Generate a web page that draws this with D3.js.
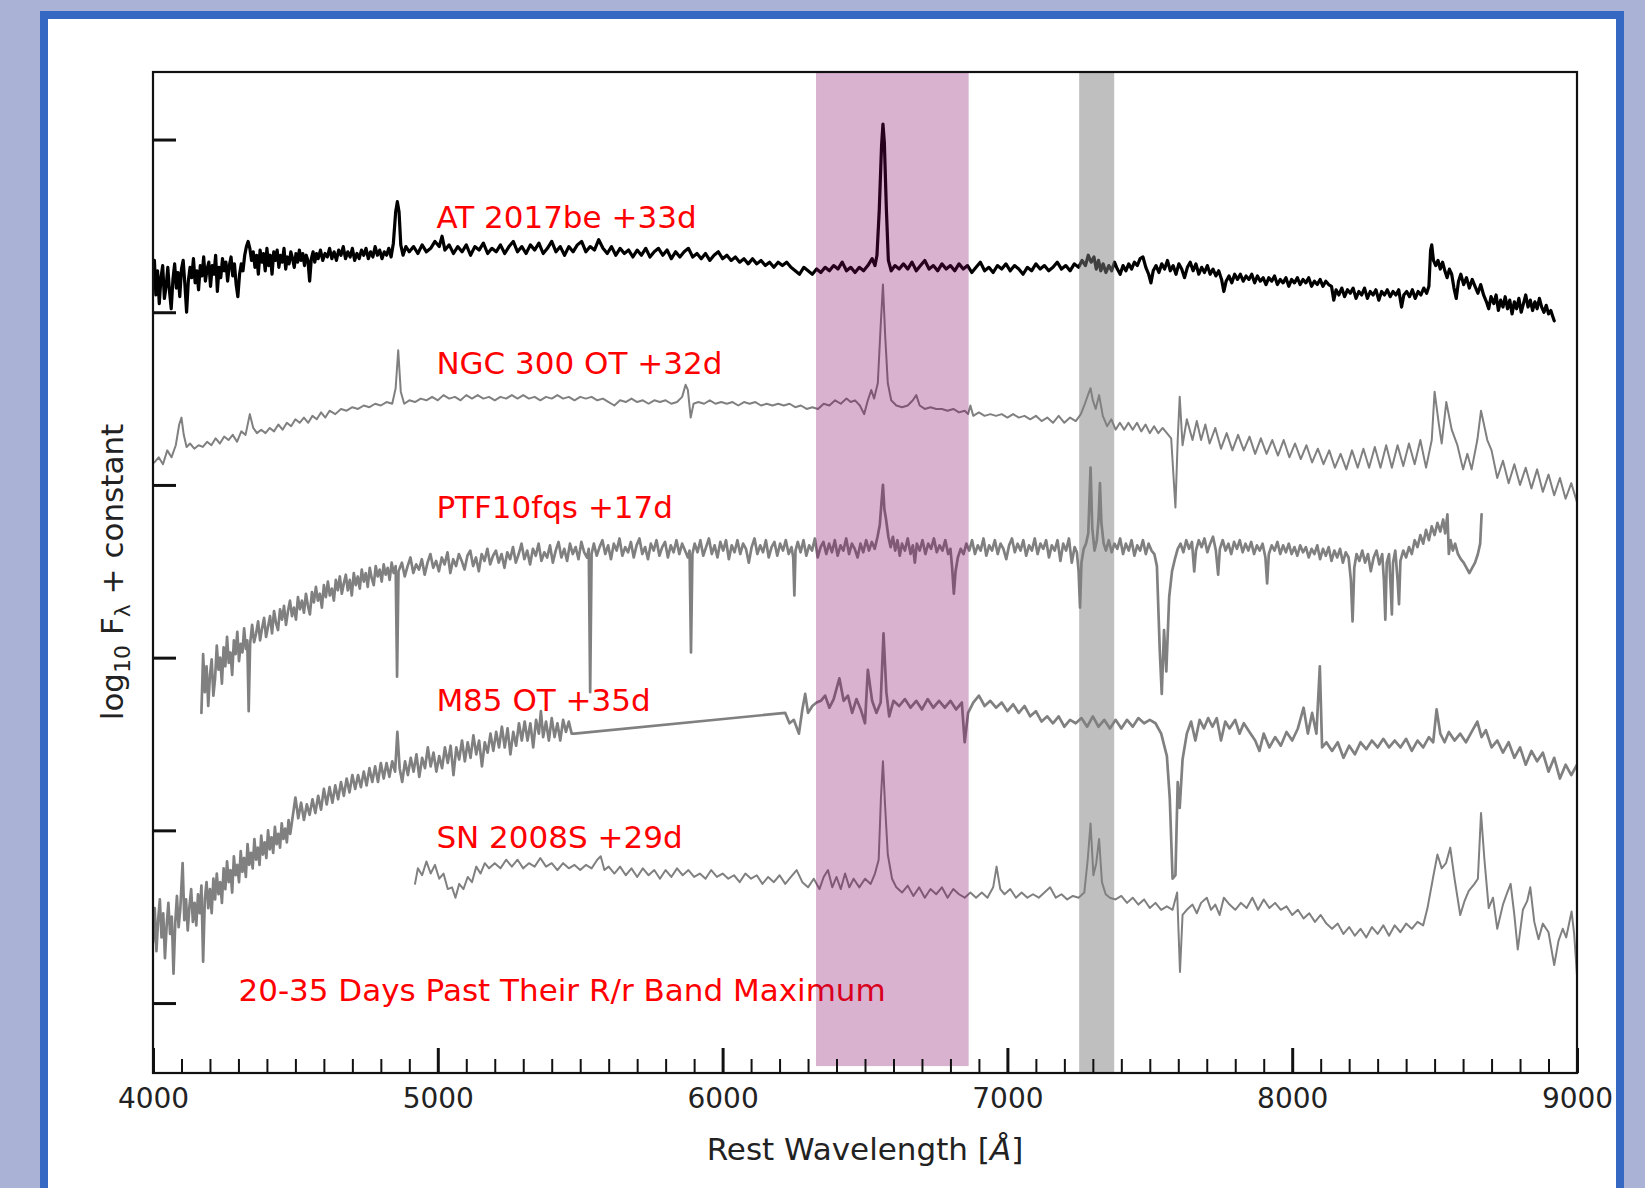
<!DOCTYPE html>
<html>
<head>
<meta charset="utf-8">
<script src="https://cdn.jsdelivr.net/npm/d3@7"></script>
<style>
  html, body { margin: 0; padding: 0; background: #aab3d5; }
  svg { display: block; }
</style>
</head>
<body>
<svg id="chart" width="1645" height="1188"></svg>
<script>
// Spectra: [rest wavelength (Å), log10 F_lambda + constant]
const at2017be = [[4000,4.17],[4005,4.30],[4010,4.10],[4016,4.24],[4022,4.05],[4028,4.20],[4034,4.27],[4040,4.08],[4046,4.15],[4052,4.26],[4058,4.12],[4064,4.02],[4070,4.19],[4076,4.28],[4082,4.14],[4088,4.23],[4094,4.09],[4100,4.25],[4106,4.30],[4112,4.16],[4118,4.00],[4124,4.18],[4130,4.26],[4136,4.20],[4142,4.31],[4148,4.17],[4154,4.24],[4160,4.13],[4166,4.27],[4172,4.21],[4178,4.32],[4184,4.18],[4190,4.25],[4196,4.29],[4202,4.15],[4208,4.27],[4214,4.22],[4220,4.33],[4226,4.12],[4232,4.26],[4238,4.20],[4244,4.31],[4250,4.24],[4256,4.29],[4262,4.18],[4268,4.27],[4274,4.32],[4280,4.21],[4286,4.28],[4292,4.16],[4298,4.09],[4304,4.22],[4310,4.28],[4316,4.24],[4322,4.33],[4328,4.38],[4334,4.41],[4340,4.37],[4346,4.30],[4352,4.35],[4358,4.26],[4364,4.33],[4370,4.22],[4376,4.36],[4382,4.29],[4388,4.34],[4394,4.24],[4400,4.37],[4406,4.27],[4412,4.33],[4418,4.22],[4424,4.35],[4430,4.30],[4436,4.36],[4442,4.26],[4448,4.33],[4454,4.29],[4460,4.37],[4466,4.25],[4472,4.32],[4478,4.28],[4484,4.35],[4490,4.31],[4496,4.26],[4502,4.34],[4508,4.29],[4514,4.36],[4520,4.30],[4526,4.34],[4532,4.27],[4538,4.33],[4544,4.30],[4550,4.18],[4556,4.31],[4562,4.35],[4568,4.29],[4574,4.34],[4580,4.31],[4588,4.36],[4596,4.30],[4604,4.34],[4612,4.32],[4620,4.37],[4628,4.31],[4636,4.35],[4644,4.30],[4652,4.36],[4660,4.33],[4668,4.38],[4676,4.31],[4684,4.35],[4692,4.32],[4700,4.37],[4708,4.30],[4716,4.34],[4724,4.31],[4732,4.36],[4740,4.33],[4748,4.37],[4756,4.31],[4764,4.35],[4772,4.32],[4780,4.38],[4788,4.33],[4796,4.36],[4804,4.31],[4812,4.35],[4820,4.33],[4828,4.37],[4836,4.32],[4844,4.40],[4852,4.58],[4858,4.64],[4864,4.58],[4870,4.39],[4878,4.33],[4888,4.38],[4900,4.35],[4915,4.38],[4930,4.34],[4945,4.39],[4960,4.35],[4975,4.37],[4990,4.41],[5005,4.38],[5015,4.44],[5025,4.36],[5040,4.39],[5055,4.34],[5070,4.38],[5085,4.35],[5100,4.39],[5115,4.33],[5130,4.38],[5145,4.36],[5160,4.40],[5175,4.34],[5190,4.37],[5205,4.35],[5220,4.39],[5235,4.34],[5250,4.38],[5265,4.41],[5280,4.35],[5295,4.38],[5310,4.34],[5325,4.39],[5340,4.36],[5355,4.40],[5370,4.34],[5385,4.37],[5400,4.41],[5415,4.35],[5430,4.38],[5445,4.33],[5460,4.38],[5475,4.35],[5490,4.39],[5505,4.41],[5520,4.35],[5535,4.38],[5550,4.36],[5565,4.42],[5580,4.37],[5595,4.34],[5610,4.38],[5625,4.33],[5640,4.37],[5655,4.34],[5670,4.36],[5685,4.32],[5700,4.36],[5715,4.33],[5730,4.37],[5745,4.32],[5760,4.35],[5775,4.37],[5790,4.33],[5805,4.36],[5820,4.31],[5835,4.35],[5850,4.32],[5865,4.35],[5880,4.37],[5895,4.32],[5910,4.34],[5925,4.31],[5940,4.34],[5955,4.30],[5970,4.33],[5985,4.35],[6000,4.31],[6015,4.33],[6030,4.30],[6045,4.32],[6060,4.29],[6075,4.31],[6090,4.28],[6105,4.31],[6120,4.28],[6135,4.30],[6150,4.27],[6165,4.29],[6180,4.26],[6195,4.29],[6210,4.27],[6225,4.29],[6240,4.26],[6255,4.24],[6270,4.22],[6285,4.26],[6300,4.24],[6315,4.22],[6330,4.25],[6345,4.23],[6360,4.26],[6375,4.24],[6390,4.27],[6405,4.25],[6420,4.29],[6435,4.24],[6450,4.26],[6465,4.23],[6480,4.26],[6495,4.24],[6510,4.27],[6525,4.31],[6535,4.27],[6542,4.33],[6550,4.59],[6558,4.96],[6563,5.09],[6568,4.98],[6575,4.60],[6582,4.30],[6592,4.24],[6605,4.27],[6620,4.25],[6635,4.28],[6650,4.25],[6665,4.29],[6680,4.24],[6695,4.27],[6710,4.30],[6725,4.25],[6740,4.27],[6755,4.24],[6770,4.28],[6785,4.25],[6800,4.27],[6815,4.24],[6830,4.28],[6845,4.25],[6860,4.27],[6875,4.23],[6890,4.26],[6905,4.29],[6920,4.24],[6935,4.26],[6950,4.23],[6965,4.27],[6980,4.25],[6995,4.28],[7010,4.24],[7025,4.27],[7040,4.25],[7055,4.22],[7070,4.26],[7085,4.24],[7100,4.28],[7115,4.25],[7130,4.27],[7145,4.24],[7160,4.26],[7175,4.29],[7190,4.25],[7205,4.27],[7220,4.24],[7235,4.28],[7250,4.26],[7262,4.30],[7274,4.27],[7284,4.33],[7294,4.29],[7304,4.32],[7312,4.25],[7320,4.30],[7328,4.24],[7336,4.28],[7346,4.23],[7356,4.27],[7366,4.24],[7376,4.29],[7386,4.25],[7396,4.22],[7406,4.27],[7416,4.24],[7426,4.28],[7436,4.25],[7446,4.29],[7456,4.27],[7466,4.31],[7476,4.32],[7486,4.26],[7496,4.22],[7504,4.17],[7512,4.24],[7522,4.27],[7532,4.23],[7542,4.28],[7552,4.25],[7562,4.30],[7572,4.24],[7582,4.27],[7592,4.22],[7602,4.28],[7612,4.25],[7622,4.20],[7632,4.26],[7642,4.29],[7652,4.24],[7662,4.28],[7672,4.22],[7682,4.26],[7692,4.23],[7702,4.27],[7712,4.22],[7722,4.25],[7732,4.21],[7742,4.24],[7752,4.19],[7760,4.12],[7768,4.18],[7778,4.21],[7788,4.17],[7798,4.22],[7808,4.19],[7818,4.22],[7828,4.18],[7838,4.21],[7848,4.19],[7858,4.22],[7868,4.17],[7878,4.21],[7888,4.18],[7898,4.20],[7908,4.16],[7918,4.20],[7928,4.18],[7938,4.21],[7948,4.16],[7958,4.19],[7968,4.17],[7978,4.20],[7988,4.15],[7998,4.19],[8008,4.17],[8018,4.20],[8028,4.16],[8038,4.19],[8048,4.17],[8058,4.20],[8068,4.15],[8078,4.18],[8088,4.16],[8098,4.19],[8108,4.15],[8118,4.18],[8128,4.16],[8138,4.15],[8146,4.07],[8154,4.13],[8164,4.10],[8174,4.14],[8184,4.09],[8194,4.13],[8204,4.11],[8214,4.14],[8224,4.08],[8234,4.12],[8244,4.10],[8254,4.14],[8264,4.08],[8274,4.12],[8284,4.10],[8294,4.13],[8304,4.07],[8314,4.12],[8324,4.10],[8334,4.13],[8344,4.09],[8354,4.12],[8364,4.10],[8374,4.13],[8384,4.03],[8392,4.10],[8402,4.12],[8412,4.09],[8422,4.13],[8432,4.08],[8442,4.12],[8452,4.10],[8462,4.14],[8472,4.11],[8480,4.15],[8486,4.36],[8490,4.39],[8496,4.30],[8504,4.27],[8512,4.30],[8520,4.25],[8528,4.29],[8536,4.24],[8544,4.20],[8552,4.25],[8560,4.22],[8568,4.14],[8576,4.08],[8584,4.18],[8592,4.22],[8602,4.16],[8612,4.20],[8622,4.14],[8632,4.19],[8642,4.15],[8652,4.11],[8662,4.16],[8672,4.10],[8682,4.06],[8690,4.02],[8698,4.09],[8708,4.05],[8716,4.10],[8724,4.01],[8732,4.07],[8740,4.03],[8748,4.09],[8756,4.02],[8764,4.07],[8772,3.99],[8780,4.06],[8788,4.02],[8796,4.08],[8804,4.00],[8812,4.05],[8820,4.10],[8828,4.03],[8836,4.07],[8844,4.01],[8852,4.06],[8860,4.02],[8868,4.08],[8876,4.03],[8884,4.00],[8892,4.04],[8900,3.99],[8908,4.01],[8914,3.98],[8920,3.95]];

const ngc300ot = [[4005,3.13],[4020,3.16],[4035,3.12],[4050,3.20],[4065,3.16],[4080,3.23],[4092,3.35],[4100,3.39],[4108,3.29],[4118,3.22],[4130,3.24],[4145,3.21],[4160,3.23],[4175,3.22],[4190,3.25],[4205,3.23],[4220,3.27],[4235,3.24],[4250,3.28],[4265,3.26],[4280,3.29],[4295,3.25],[4310,3.31],[4325,3.29],[4340,3.41],[4352,3.33],[4365,3.30],[4380,3.32],[4395,3.30],[4410,3.33],[4425,3.31],[4440,3.35],[4455,3.32],[4470,3.36],[4485,3.34],[4500,3.38],[4515,3.36],[4530,3.39],[4545,3.36],[4560,3.40],[4575,3.38],[4590,3.42],[4605,3.39],[4620,3.43],[4640,3.41],[4660,3.44],[4680,3.43],[4700,3.45],[4720,3.44],[4740,3.46],[4760,3.45],[4780,3.47],[4800,3.46],[4820,3.48],[4840,3.47],[4852,3.56],[4861,3.78],[4870,3.54],[4882,3.47],[4900,3.49],[4920,3.48],[4940,3.50],[4960,3.49],[4980,3.51],[5000,3.49],[5020,3.52],[5040,3.50],[5060,3.51],[5080,3.49],[5100,3.52],[5120,3.50],[5140,3.52],[5160,3.50],[5180,3.51],[5200,3.49],[5220,3.51],[5240,3.50],[5260,3.52],[5280,3.50],[5300,3.52],[5320,3.50],[5340,3.51],[5360,3.49],[5380,3.51],[5400,3.50],[5420,3.52],[5440,3.50],[5460,3.51],[5480,3.49],[5500,3.51],[5520,3.50],[5540,3.51],[5560,3.49],[5580,3.50],[5600,3.48],[5620,3.46],[5640,3.49],[5660,3.48],[5680,3.50],[5700,3.48],[5720,3.49],[5740,3.47],[5760,3.49],[5780,3.48],[5800,3.49],[5820,3.47],[5840,3.48],[5858,3.51],[5870,3.58],[5878,3.55],[5888,3.39],[5898,3.47],[5915,3.48],[5935,3.47],[5955,3.49],[5975,3.47],[5995,3.48],[6015,3.47],[6035,3.48],[6055,3.46],[6075,3.48],[6095,3.47],[6115,3.48],[6135,3.46],[6155,3.47],[6175,3.46],[6195,3.47],[6215,3.46],[6235,3.47],[6255,3.45],[6275,3.46],[6295,3.44],[6315,3.45],[6335,3.44],[6355,3.47],[6375,3.46],[6395,3.49],[6415,3.47],[6435,3.50],[6450,3.48],[6465,3.49],[6482,3.46],[6497,3.41],[6510,3.49],[6522,3.55],[6532,3.50],[6545,3.59],[6555,3.92],[6563,4.16],[6571,3.86],[6580,3.59],[6592,3.49],[6610,3.46],[6630,3.45],[6650,3.46],[6668,3.49],[6680,3.52],[6692,3.46],[6710,3.44],[6730,3.45],[6750,3.44],[6770,3.44],[6790,3.43],[6810,3.44],[6830,3.42],[6850,3.43],[6862,3.41],[6870,3.46],[6880,3.40],[6900,3.42],[6920,3.40],[6940,3.41],[6960,3.40],[6980,3.41],[7000,3.39],[7020,3.41],[7040,3.39],[7060,3.40],[7080,3.38],[7100,3.40],[7120,3.37],[7140,3.39],[7160,3.36],[7180,3.40],[7200,3.36],[7220,3.39],[7240,3.37],[7258,3.41],[7272,3.47],[7285,3.53],[7292,3.56],[7300,3.49],[7310,3.44],[7322,3.52],[7335,3.40],[7350,3.34],[7365,3.38],[7380,3.32],[7395,3.36],[7410,3.32],[7425,3.36],[7440,3.32],[7455,3.36],[7470,3.31],[7485,3.35],[7500,3.30],[7515,3.34],[7530,3.30],[7545,3.33],[7560,3.30],[7575,3.27],[7590,2.87],[7598,3.26],[7605,3.51],[7615,3.23],[7630,3.38],[7650,3.26],[7665,3.37],[7680,3.26],[7695,3.35],[7710,3.24],[7730,3.33],[7750,3.21],[7770,3.30],[7790,3.20],[7810,3.29],[7830,3.20],[7850,3.28],[7870,3.18],[7890,3.27],[7910,3.18],[7930,3.26],[7950,3.17],[7970,3.26],[7990,3.16],[8010,3.24],[8030,3.15],[8050,3.23],[8070,3.13],[8090,3.21],[8110,3.12],[8130,3.20],[8150,3.10],[8170,3.18],[8190,3.09],[8210,3.20],[8230,3.10],[8250,3.21],[8270,3.10],[8290,3.22],[8310,3.10],[8330,3.23],[8350,3.10],[8370,3.23],[8390,3.11],[8410,3.24],[8430,3.12],[8450,3.26],[8470,3.10],[8490,3.26],[8500,3.54],[8515,3.35],[8525,3.24],[8541,3.48],[8560,3.32],[8580,3.23],[8600,3.09],[8615,3.18],[8630,3.09],[8650,3.26],[8663,3.43],[8685,3.26],[8700,3.20],[8720,3.04],[8740,3.14],[8760,3.01],[8780,3.12],[8800,3.00],[8820,3.10],[8840,2.98],[8860,3.09],[8880,2.96],[8900,3.06],[8920,2.94],[8940,3.04],[8960,2.92],[8980,3.01],[9000,2.90]];

const ptf10fqs = [[4170,1.68],[4176,2.02],[4182,1.80],[4188,1.95],[4194,1.72],[4200,1.90],[4206,1.99],[4212,1.78],[4218,1.88],[4224,2.07],[4230,1.93],[4236,2.00],[4242,1.85],[4248,2.06],[4254,1.95],[4260,2.12],[4266,1.97],[4272,2.03],[4278,1.90],[4284,2.10],[4290,2.02],[4296,2.15],[4302,1.98],[4308,2.08],[4314,2.03],[4320,2.17],[4326,2.05],[4331,2.10],[4336,1.69],[4341,2.08],[4348,2.19],[4355,2.09],[4362,2.14],[4369,2.21],[4376,2.10],[4383,2.17],[4390,2.23],[4397,2.12],[4404,2.18],[4411,2.24],[4418,2.14],[4425,2.27],[4432,2.20],[4439,2.16],[4446,2.28],[4453,2.22],[4460,2.30],[4467,2.19],[4474,2.27],[4481,2.33],[4488,2.24],[4495,2.29],[4502,2.22],[4509,2.35],[4516,2.28],[4523,2.33],[4530,2.26],[4537,2.37],[4544,2.30],[4551,2.25],[4558,2.38],[4565,2.32],[4572,2.41],[4579,2.33],[4586,2.37],[4593,2.29],[4600,2.42],[4607,2.35],[4614,2.44],[4621,2.36],[4628,2.40],[4635,2.33],[4642,2.45],[4649,2.39],[4656,2.47],[4663,2.37],[4670,2.43],[4677,2.48],[4684,2.39],[4691,2.45],[4698,2.36],[4705,2.49],[4712,2.42],[4719,2.47],[4726,2.40],[4733,2.51],[4740,2.44],[4747,2.49],[4754,2.41],[4761,2.52],[4768,2.46],[4775,2.42],[4782,2.53],[4789,2.47],[4796,2.51],[4803,2.44],[4810,2.54],[4817,2.48],[4824,2.52],[4831,2.45],[4838,2.55],[4845,2.49],[4852,2.53],[4857,1.89],[4862,2.50],[4874,2.55],[4884,2.47],[4894,2.53],[4904,2.58],[4914,2.49],[4924,2.54],[4934,2.51],[4944,2.57],[4954,2.48],[4964,2.55],[4974,2.60],[4984,2.52],[4994,2.56],[5004,2.50],[5014,2.58],[5024,2.54],[5034,2.61],[5044,2.49],[5054,2.57],[5064,2.53],[5074,2.60],[5084,2.56],[5094,2.51],[5104,2.59],[5114,2.62],[5124,2.53],[5134,2.58],[5144,2.50],[5154,2.60],[5164,2.56],[5174,2.63],[5184,2.54],[5194,2.59],[5204,2.62],[5214,2.55],[5224,2.60],[5234,2.52],[5244,2.61],[5254,2.57],[5264,2.64],[5274,2.55],[5284,2.60],[5294,2.66],[5304,2.57],[5314,2.62],[5324,2.54],[5334,2.63],[5344,2.59],[5354,2.66],[5364,2.56],[5374,2.61],[5384,2.58],[5394,2.65],[5404,2.55],[5414,2.62],[5424,2.67],[5434,2.58],[5444,2.63],[5454,2.56],[5464,2.66],[5474,2.60],[5484,2.64],[5494,2.57],[5504,2.67],[5514,2.61],[5524,2.58],[5530,2.63],[5535,1.80],[5540,2.60],[5548,2.66],[5558,2.59],[5568,2.64],[5578,2.68],[5588,2.60],[5598,2.65],[5608,2.57],[5618,2.66],[5628,2.62],[5638,2.69],[5648,2.59],[5658,2.64],[5668,2.61],[5678,2.67],[5688,2.58],[5698,2.65],[5708,2.69],[5718,2.60],[5728,2.64],[5738,2.57],[5748,2.66],[5758,2.62],[5768,2.68],[5778,2.59],[5788,2.64],[5798,2.67],[5808,2.58],[5818,2.65],[5828,2.61],[5838,2.68],[5848,2.60],[5858,2.66],[5868,2.62],[5878,2.58],[5884,2.62],[5889,2.03],[5894,2.60],[5902,2.66],[5912,2.61],[5922,2.68],[5932,2.59],[5942,2.64],[5952,2.69],[5962,2.60],[5972,2.65],[5982,2.58],[5992,2.67],[6002,2.62],[6012,2.68],[6022,2.57],[6032,2.65],[6042,2.61],[6052,2.68],[6062,2.60],[6072,2.66],[6082,2.63],[6092,2.55],[6102,2.64],[6112,2.69],[6122,2.60],[6132,2.65],[6142,2.61],[6152,2.68],[6162,2.58],[6172,2.64],[6182,2.67],[6192,2.59],[6202,2.66],[6212,2.62],[6222,2.68],[6232,2.60],[6242,2.64],[6248,2.58],[6252,2.36],[6256,2.62],[6264,2.67],[6274,2.61],[6284,2.68],[6294,2.59],[6304,2.65],[6314,2.62],[6324,2.69],[6334,2.58],[6344,2.64],[6354,2.67],[6364,2.60],[6374,2.66],[6384,2.61],[6394,2.68],[6404,2.59],[6414,2.65],[6424,2.62],[6434,2.69],[6444,2.60],[6454,2.66],[6464,2.63],[6474,2.58],[6484,2.66],[6494,2.61],[6504,2.68],[6514,2.62],[6524,2.67],[6534,2.63],[6544,2.70],[6552,2.77],[6558,2.90],[6563,3.00],[6568,2.86],[6574,2.80],[6582,2.70],[6590,2.64],[6598,2.70],[6606,2.62],[6614,2.68],[6622,2.59],[6630,2.66],[6640,2.62],[6650,2.69],[6660,2.60],[6668,2.65],[6675,2.55],[6682,2.66],[6692,2.62],[6702,2.68],[6712,2.60],[6722,2.66],[6732,2.63],[6742,2.69],[6752,2.61],[6762,2.65],[6772,2.62],[6782,2.68],[6792,2.60],[6800,2.63],[6806,2.52],[6812,2.37],[6818,2.50],[6826,2.58],[6836,2.63],[6846,2.60],[6856,2.66],[6866,2.62],[6876,2.68],[6886,2.60],[6896,2.65],[6906,2.62],[6916,2.69],[6926,2.59],[6936,2.65],[6946,2.62],[6956,2.68],[6966,2.60],[6976,2.66],[6986,2.63],[6996,2.57],[7006,2.65],[7016,2.69],[7026,2.61],[7036,2.66],[7046,2.62],[7056,2.68],[7066,2.59],[7076,2.65],[7086,2.62],[7096,2.69],[7106,2.60],[7116,2.66],[7126,2.63],[7136,2.68],[7146,2.58],[7156,2.65],[7166,2.62],[7176,2.68],[7186,2.56],[7196,2.66],[7206,2.62],[7216,2.69],[7226,2.55],[7236,2.64],[7244,2.61],[7250,2.50],[7255,2.29],[7260,2.55],[7268,2.63],[7276,2.66],[7284,2.72],[7292,3.10],[7298,2.75],[7306,2.62],[7314,2.68],[7320,2.80],[7325,3.01],[7330,2.78],[7338,2.66],[7346,2.62],[7356,2.68],[7366,2.61],[7376,2.66],[7386,2.63],[7396,2.69],[7406,2.60],[7416,2.66],[7426,2.62],[7436,2.68],[7446,2.59],[7456,2.65],[7466,2.62],[7476,2.68],[7486,2.60],[7496,2.66],[7506,2.62],[7516,2.60],[7525,2.53],[7535,2.04],[7542,1.79],[7550,2.16],[7558,1.92],[7568,2.35],[7578,2.50],[7588,2.57],[7598,2.63],[7608,2.66],[7618,2.61],[7628,2.68],[7638,2.63],[7648,2.67],[7656,2.50],[7662,2.62],[7672,2.68],[7682,2.64],[7692,2.69],[7702,2.61],[7712,2.66],[7722,2.70],[7732,2.62],[7740,2.48],[7746,2.63],[7756,2.68],[7766,2.62],[7776,2.66],[7786,2.60],[7796,2.67],[7806,2.63],[7816,2.68],[7826,2.61],[7836,2.66],[7846,2.62],[7856,2.67],[7866,2.60],[7876,2.65],[7886,2.62],[7896,2.66],[7906,2.58],[7912,2.43],[7918,2.60],[7928,2.65],[7938,2.62],[7948,2.67],[7958,2.60],[7968,2.65],[7978,2.61],[7988,2.66],[7998,2.60],[8008,2.64],[8018,2.59],[8028,2.65],[8038,2.61],[8048,2.64],[8058,2.58],[8068,2.63],[8078,2.60],[8088,2.65],[8098,2.57],[8108,2.63],[8118,2.59],[8128,2.64],[8138,2.56],[8148,2.62],[8158,2.58],[8168,2.63],[8178,2.55],[8188,2.61],[8198,2.58],[8206,2.45],[8212,2.21],[8218,2.52],[8226,2.60],[8236,2.56],[8246,2.62],[8256,2.55],[8266,2.60],[8276,2.50],[8286,2.58],[8296,2.62],[8306,2.54],[8316,2.60],[8322,2.45],[8327,2.22],[8332,2.55],[8340,2.60],[8346,2.40],[8350,2.25],[8354,2.55],[8362,2.62],[8370,2.45],[8375,2.31],[8380,2.56],[8390,2.62],[8400,2.58],[8410,2.64],[8420,2.60],[8430,2.68],[8440,2.64],[8450,2.71],[8460,2.66],[8470,2.74],[8480,2.68],[8490,2.76],[8500,2.71],[8510,2.78],[8520,2.73],[8530,2.80],[8537,2.72],[8545,2.83],[8550,2.60],[8556,2.68],[8564,2.62],[8572,2.66],[8582,2.60],[8592,2.57],[8602,2.55],[8612,2.52],[8622,2.49],[8632,2.52],[8642,2.55],[8652,2.60],[8660,2.66],[8665,2.83]];

const m85ot = [[4000,0.35],[4006,0.55],[4012,0.30],[4018,0.48],[4024,0.60],[4030,0.38],[4036,0.52],[4042,0.26],[4048,0.45],[4054,0.58],[4060,0.40],[4066,0.50],[4072,0.17],[4078,0.46],[4084,0.62],[4090,0.44],[4096,0.55],[4104,0.81],[4110,0.48],[4116,0.60],[4122,0.42],[4128,0.56],[4134,0.66],[4140,0.47],[4146,0.58],[4152,0.45],[4158,0.63],[4164,0.52],[4170,0.68],[4176,0.24],[4182,0.60],[4188,0.70],[4194,0.55],[4200,0.66],[4206,0.52],[4212,0.72],[4218,0.60],[4224,0.75],[4230,0.63],[4236,0.70],[4242,0.58],[4248,0.78],[4254,0.66],[4260,0.82],[4266,0.70],[4272,0.77],[4278,0.64],[4284,0.85],[4290,0.74],[4296,0.80],[4302,0.70],[4308,0.88],[4314,0.76],[4320,0.84],[4326,0.73],[4332,0.92],[4338,0.80],[4344,0.87],[4350,0.78],[4356,0.95],[4362,0.83],[4368,0.90],[4374,0.80],[4380,0.97],[4386,0.86],[4392,0.93],[4398,0.84],[4404,1.00],[4410,0.89],[4416,0.96],[4422,0.87],[4428,1.02],[4434,0.92],[4440,0.98],[4446,0.90],[4452,1.04],[4458,0.95],[4464,1.01],[4470,0.93],[4476,1.06],[4482,0.98],[4488,1.05],[4494,1.12],[4500,1.19],[4510,1.07],[4520,1.16],[4530,1.06],[4540,1.15],[4550,1.09],[4560,1.18],[4570,1.10],[4580,1.20],[4590,1.12],[4600,1.24],[4610,1.15],[4620,1.25],[4630,1.16],[4640,1.26],[4650,1.18],[4660,1.28],[4670,1.20],[4680,1.30],[4690,1.22],[4700,1.32],[4710,1.24],[4720,1.32],[4730,1.25],[4740,1.34],[4750,1.26],[4760,1.36],[4770,1.28],[4780,1.37],[4790,1.28],[4800,1.39],[4810,1.30],[4820,1.39],[4830,1.31],[4840,1.40],[4850,1.34],[4858,1.57],[4866,1.36],[4875,1.28],[4885,1.40],[4895,1.32],[4905,1.42],[4915,1.34],[4925,1.44],[4935,1.31],[4945,1.42],[4955,1.36],[4965,1.48],[4975,1.37],[4985,1.45],[4995,1.34],[5005,1.43],[5015,1.36],[5025,1.48],[5035,1.39],[5045,1.49],[5055,1.32],[5065,1.48],[5075,1.41],[5085,1.52],[5095,1.40],[5105,1.51],[5115,1.42],[5125,1.55],[5135,1.44],[5145,1.52],[5155,1.37],[5165,1.51],[5175,1.45],[5185,1.56],[5195,1.46],[5205,1.57],[5215,1.48],[5225,1.60],[5235,1.48],[5245,1.59],[5255,1.44],[5265,1.57],[5275,1.49],[5285,1.62],[5295,1.52],[5305,1.63],[5315,1.52],[5325,1.62],[5335,1.48],[5345,1.64],[5355,1.56],[5362,1.69],[5370,1.54],[5380,1.63],[5390,1.52],[5400,1.65],[5410,1.54],[5420,1.62],[5430,1.52],[5440,1.64],[5450,1.57],[5460,1.63],[5470,1.56],[5480,1.56],[6220,1.68],[6235,1.62],[6250,1.64],[6268,1.56],[6280,1.70],[6290,1.79],[6300,1.68],[6315,1.72],[6330,1.74],[6345,1.75],[6360,1.78],[6375,1.71],[6390,1.76],[6410,1.88],[6425,1.75],[6440,1.78],[6455,1.68],[6470,1.76],[6485,1.70],[6500,1.62],[6510,1.93],[6525,1.75],[6540,1.68],[6555,1.74],[6565,2.14],[6575,1.80],[6585,1.66],[6600,1.75],[6620,1.72],[6640,1.76],[6660,1.71],[6680,1.75],[6700,1.70],[6720,1.76],[6740,1.71],[6760,1.75],[6780,1.71],[6800,1.75],[6820,1.70],[6840,1.74],[6850,1.51],[6862,1.68],[6880,1.74],[6900,1.78],[6920,1.72],[6940,1.75],[6960,1.71],[6980,1.74],[7000,1.69],[7020,1.73],[7040,1.68],[7060,1.72],[7080,1.66],[7100,1.69],[7120,1.63],[7140,1.66],[7160,1.62],[7180,1.66],[7200,1.60],[7220,1.64],[7240,1.62],[7260,1.65],[7280,1.60],[7300,1.66],[7320,1.60],[7340,1.64],[7360,1.59],[7380,1.64],[7400,1.59],[7420,1.64],[7440,1.60],[7460,1.65],[7480,1.62],[7500,1.64],[7520,1.62],[7540,1.56],[7560,1.43],[7570,1.19],[7580,0.72],[7590,0.74],[7598,1.28],[7605,1.13],[7615,1.41],[7630,1.56],[7645,1.63],[7660,1.52],[7675,1.64],[7690,1.59],[7705,1.65],[7720,1.60],[7735,1.65],[7750,1.52],[7765,1.63],[7780,1.59],[7800,1.64],[7815,1.56],[7830,1.62],[7850,1.57],[7870,1.52],[7885,1.46],[7900,1.56],[7920,1.48],[7940,1.54],[7960,1.49],[7980,1.57],[8000,1.52],[8020,1.59],[8040,1.71],[8055,1.56],[8070,1.68],[8085,1.56],[8097,1.95],[8105,1.48],[8120,1.51],[8140,1.46],[8160,1.51],[8180,1.42],[8200,1.49],[8220,1.44],[8240,1.51],[8260,1.47],[8280,1.52],[8300,1.48],[8320,1.53],[8340,1.48],[8360,1.52],[8380,1.48],[8400,1.53],[8420,1.46],[8440,1.52],[8460,1.48],[8480,1.54],[8495,1.51],[8507,1.70],[8520,1.56],[8535,1.51],[8550,1.57],[8570,1.52],[8590,1.56],[8610,1.51],[8630,1.57],[8650,1.63],[8665,1.54],[8680,1.58],[8700,1.48],[8720,1.52],[8740,1.45],[8760,1.51],[8780,1.42],[8800,1.48],[8820,1.38],[8840,1.46],[8860,1.40],[8880,1.45],[8900,1.34],[8920,1.42],[8940,1.30],[8960,1.38],[8980,1.32],[9000,1.38]];

const sn2008s = [[4920,0.69],[4930,0.78],[4945,0.74],[4960,0.82],[4975,0.75],[4990,0.80],[5005,0.72],[5020,0.75],[5035,0.66],[5050,0.67],[5062,0.61],[5075,0.69],[5090,0.66],[5105,0.73],[5120,0.70],[5135,0.79],[5150,0.75],[5165,0.81],[5180,0.78],[5200,0.81],[5220,0.78],[5240,0.83],[5260,0.79],[5280,0.83],[5300,0.78],[5320,0.81],[5340,0.79],[5360,0.84],[5380,0.79],[5400,0.81],[5420,0.77],[5440,0.81],[5460,0.78],[5480,0.80],[5500,0.77],[5520,0.80],[5540,0.78],[5560,0.83],[5572,0.85],[5585,0.77],[5600,0.79],[5620,0.75],[5640,0.79],[5660,0.74],[5680,0.78],[5700,0.73],[5720,0.78],[5740,0.74],[5760,0.77],[5780,0.72],[5800,0.77],[5820,0.73],[5840,0.78],[5860,0.74],[5880,0.77],[5900,0.73],[5920,0.75],[5940,0.72],[5960,0.77],[5980,0.73],[6000,0.75],[6020,0.72],[6040,0.74],[6060,0.70],[6080,0.75],[6100,0.72],[6120,0.74],[6140,0.69],[6160,0.73],[6180,0.70],[6200,0.74],[6220,0.69],[6240,0.73],[6260,0.77],[6280,0.70],[6300,0.67],[6320,0.72],[6340,0.66],[6355,0.73],[6370,0.77],[6385,0.67],[6400,0.73],[6415,0.66],[6430,0.75],[6445,0.67],[6460,0.72],[6480,0.67],[6500,0.72],[6520,0.69],[6535,0.75],[6548,0.83],[6556,1.19],[6563,1.40],[6570,1.16],[6580,0.86],[6595,0.72],[6610,0.67],[6630,0.64],[6650,0.68],[6670,0.62],[6690,0.67],[6710,0.61],[6730,0.66],[6750,0.63],[6770,0.67],[6790,0.61],[6810,0.66],[6830,0.63],[6850,0.61],[6870,0.64],[6890,0.61],[6910,0.64],[6930,0.61],[6950,0.67],[6962,0.79],[6975,0.66],[6990,0.63],[7010,0.66],[7030,0.61],[7050,0.64],[7070,0.61],[7090,0.63],[7110,0.61],[7130,0.64],[7150,0.67],[7170,0.61],[7190,0.63],[7210,0.60],[7230,0.62],[7250,0.61],[7270,0.64],[7282,0.83],[7292,1.04],[7302,0.74],[7312,0.81],[7322,0.95],[7332,0.70],[7345,0.63],[7360,0.61],[7380,0.60],[7400,0.62],[7420,0.58],[7440,0.61],[7460,0.57],[7480,0.60],[7500,0.55],[7520,0.58],[7540,0.54],[7560,0.56],[7580,0.54],[7596,0.64],[7606,0.18],[7615,0.51],[7630,0.54],[7650,0.57],[7665,0.52],[7680,0.58],[7700,0.61],[7715,0.54],[7730,0.57],[7745,0.51],[7760,0.61],[7780,0.57],[7800,0.54],[7820,0.58],[7840,0.55],[7860,0.61],[7880,0.54],[7900,0.60],[7920,0.55],[7940,0.58],[7960,0.54],[7980,0.56],[8000,0.51],[8020,0.54],[8040,0.49],[8060,0.52],[8080,0.47],[8100,0.51],[8120,0.46],[8140,0.43],[8160,0.46],[8180,0.40],[8200,0.44],[8220,0.39],[8240,0.43],[8260,0.38],[8280,0.44],[8300,0.40],[8320,0.45],[8340,0.39],[8360,0.45],[8380,0.41],[8400,0.46],[8420,0.43],[8440,0.47],[8460,0.45],[8475,0.55],[8495,0.73],[8510,0.86],[8525,0.78],[8540,0.81],[8555,0.90],[8570,0.72],[8590,0.51],[8605,0.59],[8620,0.65],[8640,0.69],[8652,0.72],[8663,1.10],[8675,0.83],[8690,0.55],[8705,0.61],[8720,0.43],[8740,0.57],[8755,0.64],[8767,0.69],[8780,0.51],[8792,0.31],[8810,0.54],[8825,0.59],[8836,0.67],[8850,0.47],[8865,0.37],[8880,0.46],[8900,0.41],[8920,0.22],[8935,0.36],[8950,0.43],[8962,0.38],[8981,0.53],[8990,0.40],[9000,0.16]];

// Object names and epochs
const objectNames = ["AT 2017be +33d", "NGC 300 OT +32d", "PTF10fqs +17d", "M85 OT +35d", "SN 2008S +29d"];
const objectLabelY = [4.49, 3.64, 2.81, 1.69, 0.90];
const noteText = "20-35 Days Past Their R/r Band Maximum";
const noteY = 0.01;

// Axis ticks
const xMajorTicks = [4000, 5000, 6000, 7000, 8000, 9000];
const xMinorTicks = d3.range(4100, 9000, 100).filter(v => v % 1000 !== 0);
const yTicks = [0, 1, 2, 3, 4, 5];

// Shaded wavelength windows
const halphaBand = [6328, 6864];
const halphaBandFloor = -0.365;
const grayBand = [7252, 7375];

const svg = d3.select("#chart");
const FONT = "DejaVu Sans, Verdana, sans-serif";

// page frame
svg.append("rect").attr("x", 44).attr("y", 15).attr("width", 1576).attr("height", 1240)
  .attr("fill", "#ffffff").attr("stroke", "#3468c2").attr("stroke-width", 8);

const L = 153, R = 1577, T = 72, B = 1073;
const x = d3.scaleLinear().domain([4000, 9000]).range([L, R]);
const y = d3.scaleLinear().domain([-0.405, 5.391]).range([B, T]);

svg.append("defs").append("clipPath").attr("id", "plotClip")
  .append("rect").attr("x", L).attr("y", T).attr("width", R - L).attr("height", B - T);

const plot = svg.append("g").attr("clip-path", "url(#plotClip)");
plot.append("rect").attr("x", L).attr("y", T).attr("width", R - L).attr("height", B - T).attr("fill", "#fff");

const line = d3.line().x(d => x(d[0])).y(d => y(d[1]));

const spectra = [
  { data: sn2008s, color: "#808080", width: 2.0 },
  { data: m85ot, color: "#808080", width: 2.7 },
  { data: ptf10fqs, color: "#808080", width: 2.7 },
  { data: ngc300ot, color: "#808080", width: 2.0 },
  { data: at2017be, color: "#000000", width: 3.2 }
];
spectra.forEach(s => {
  plot.append("path").datum(s.data).attr("d", line)
    .attr("fill", "none").attr("stroke", s.color).attr("stroke-width", s.width)
    .attr("stroke-linejoin", "round").attr("stroke-linecap", "round");
});

// labels
const labelX = 4995;
objectNames.forEach((name, i) => {
  plot.append("text").attr("x", x(labelX)).attr("y", y(objectLabelY[i]))
    .attr("fill", "#ff0000").attr("font-family", FONT).attr("font-size", 31)
    .text(name);
});
plot.append("text").attr("x", x(4300)).attr("y", y(noteY))
  .attr("fill", "#ff0000").attr("font-family", FONT).attr("font-size", 31)
  .text(noteText);

// shaded windows on top
plot.append("rect")
  .attr("x", x(halphaBand[0])).attr("width", x(halphaBand[1]) - x(halphaBand[0]))
  .attr("y", T).attr("height", y(halphaBandFloor) - T)
  .attr("fill", "rgb(128,0,100)").attr("fill-opacity", 0.3);
plot.append("rect")
  .attr("x", x(grayBand[0])).attr("width", x(grayBand[1]) - x(grayBand[0]))
  .attr("y", T).attr("height", B - T)
  .attr("fill", "#808080").attr("fill-opacity", 0.5);

// axes
const xMajor = svg.append("g").attr("transform", `translate(0,${B})`)
  .call(d3.axisBottom(x).tickValues(xMajorTicks).tickSize(-25).tickPadding(15).tickFormat(d3.format("d")));
xMajor.select(".domain").remove();
xMajor.selectAll(".tick line").attr("stroke", "#111").attr("stroke-width", 3);
xMajor.selectAll(".tick text").attr("font-family", FONT).attr("font-size", 28).attr("fill", "#222");

const xMinor = svg.append("g").attr("transform", `translate(0,${B})`)
  .call(d3.axisBottom(x).tickValues(xMinorTicks).tickSize(-14).tickFormat(""));
xMinor.select(".domain").remove();
xMinor.selectAll(".tick line").attr("stroke", "#111").attr("stroke-width", 2);

const yAxis = svg.append("g").attr("transform", `translate(${L},0)`)
  .call(d3.axisLeft(y).tickValues(yTicks).tickSize(-23).tickFormat(""));
yAxis.select(".domain").remove();
yAxis.selectAll(".tick line").attr("stroke", "#111").attr("stroke-width", 3);

// spines
svg.append("rect").attr("x", L).attr("y", T).attr("width", R - L).attr("height", B - T)
  .attr("fill", "none").attr("stroke", "#111").attr("stroke-width", 2.2);

// axis titles
const xt = svg.append("text").attr("x", (L + R) / 2).attr("y", 1160)
  .attr("text-anchor", "middle").attr("font-family", FONT).attr("font-size", 31).attr("fill", "#222");
xt.append("tspan").text("Rest Wavelength [");
xt.append("tspan").attr("font-style", "italic").text("Å");
xt.append("tspan").text("]");

const yt = svg.append("text").attr("transform", `translate(123,572) rotate(-90)`)
  .attr("text-anchor", "middle").attr("font-family", FONT).attr("font-size", 31).attr("fill", "#222");
yt.append("tspan").text("log");
yt.append("tspan").attr("font-size", 22).attr("dy", 7).text("10");
yt.append("tspan").attr("dy", -7).text(" F");
yt.append("tspan").attr("font-size", 22).attr("dy", 7).text("λ");
yt.append("tspan").attr("dy", -7).text(" + constant");
</script>
</body>
</html>
